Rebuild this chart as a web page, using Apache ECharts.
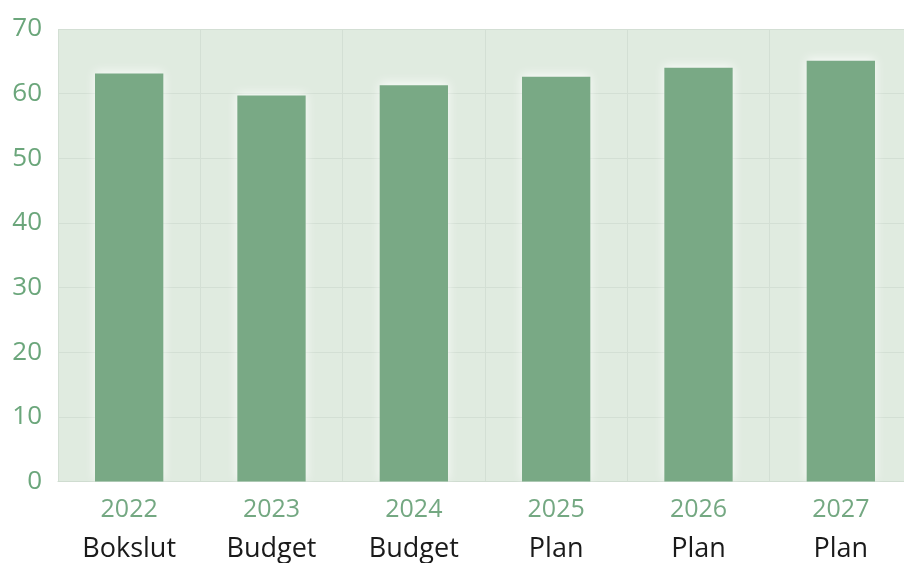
<!DOCTYPE html>
<html>
<head>
<meta charset="utf-8">
<script src="https://cdn.jsdelivr.net/npm/echarts@6/dist/echarts.min.js"></script>
<style>
  html, body { margin: 0; padding: 0; background: #ffffff; overflow: hidden; }
  /* the plot runs a little past the right edge of the window */
  #chart { width: 912px; height: 563px; }
</style>
</head>
<body>
<div id="chart"></div>
<script>
// Years and the kind of figure reported for each year
const years = ['2022', '2023', '2024', '2025', '2026', '2027'];
const kinds = ['Bokslut', 'Budget', 'Budget', 'Plan', 'Plan', 'Plan'];
// Values per year
const values = [63.1, 59.7, 61.3, 62.6, 64.0, 65.1];
// Value axis ticks
const yMin = 0, yMax = 70, yStep = 10;

const chart = echarts.init(document.getElementById('chart'), null, { renderer: 'canvas' });

const categories = years.map((y, i) => y + '\n' + kinds[i]);

chart.setOption({
  animation: false,
  backgroundColor: '#ffffff',
  grid: {
    left: 58, right: 0, top: 29, bottom: 80,
    show: true,
    backgroundColor: '#e0ebe0',
    borderWidth: 0
  },
  xAxis: {
    type: 'category',
    data: categories,
    axisLine: { show: true, lineStyle: { color: '#cfdcd0', width: 1 } },
    axisTick: { show: false },
    splitLine: { show: true, lineStyle: { color: '#d3dfd4', width: 1 } },
    axisLabel: {
      interval: 0,
      margin: 8,
      formatter: function (v) {
        const p = v.split('\n');
        return '{y|' + p[0] + '}\n{k|' + p[1] + '}';
      },
      rich: {
        y: { fontFamily: 'Open Sans', fontSize: 25, color: '#74a882', lineHeight: 40 },
        k: { fontFamily: 'Open Sans', fontSize: 27, color: '#1a1a1a', lineHeight: 40 }
      }
    }
  },
  yAxis: {
    type: 'value',
    min: yMin, max: yMax, interval: yStep,
    axisLine: { show: false },
    axisTick: { show: false },
    splitLine: { show: true, lineStyle: { color: '#d3dfd4', width: 1 } },
    axisLabel: {
      margin: 16,
      fontFamily: 'Open Sans',
      fontSize: 26,
      color: '#6ba67b'
    }
  },
  series: [{
    type: 'bar',
    data: values,
    barWidth: '48%',
    itemStyle: {
      color: '#79a985',
      shadowColor: 'rgba(255,255,255,0.85)',
      shadowBlur: 10,
      shadowOffsetY: -2
    }
  }]
});
</script>
</body>
</html>
